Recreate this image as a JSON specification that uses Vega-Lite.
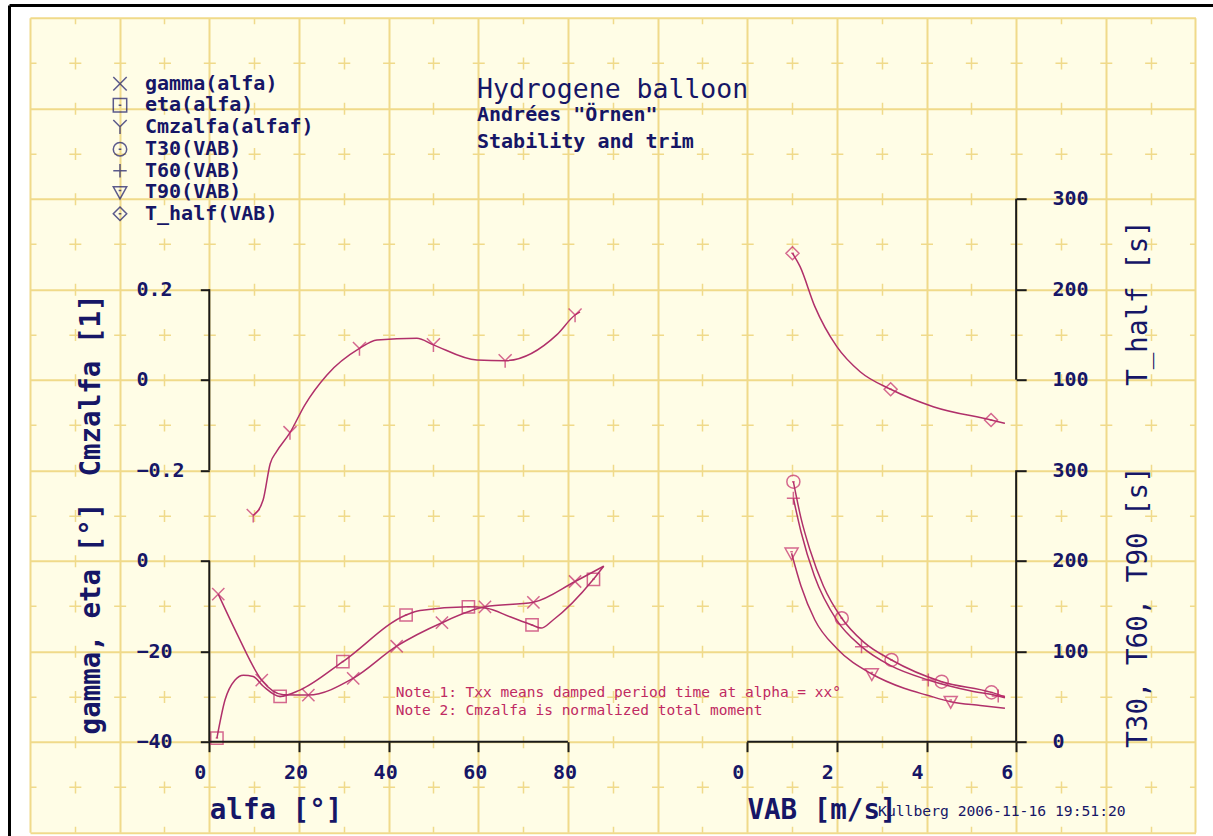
{
  "$schema": "https://vega.github.io/schema/vega-lite/v6.json",
  "width": 1165.45,
  "height": 814.5,
  "autosize": {"type": "none"},
  "padding": {"left": 30, "top": 17.7, "right": 17.55, "bottom": 3.8},
  "background": "white",
  "title": {
    "text": "Hydrogene balloon",
    "subtitle": ["Andrées \"Örnen\"", "Stability and trim"],
    "anchor": "start", "frame": "group", "orient": "top", "offset": 0,
    "dx": 447, "dy": 147,
    "font": "DejaVu Sans Mono", "fontSize": 26.5, "fontWeight": "normal", "color": "#161666",
    "subtitleFont": "DejaVu Sans Mono", "subtitleFontSize": 20, "subtitleFontWeight": "bold",
    "subtitleColor": "#161666", "subtitlePadding": 2, "subtitleLineHeight": 27
  },
  "data": {"values": [{}]},
  "datasets": {
    "alfa_curves": [
      {"series": "gamma(alfa)", "alfa": 2.0, "value": -7.4},
      {"series": "gamma(alfa)", "alfa": 6.1, "value": -16.0},
      {"series": "gamma(alfa)", "alfa": 11.7, "value": -26.4},
      {"series": "gamma(alfa)", "alfa": 16.5, "value": -29.6},
      {"series": "gamma(alfa)", "alfa": 22.1, "value": -29.7},
      {"series": "gamma(alfa)", "alfa": 32.1, "value": -26.0},
      {"series": "gamma(alfa)", "alfa": 41.8, "value": -18.9},
      {"series": "gamma(alfa)", "alfa": 51.9, "value": -13.7},
      {"series": "gamma(alfa)", "alfa": 61.5, "value": -10.2},
      {"series": "gamma(alfa)", "alfa": 72.3, "value": -9.2},
      {"series": "gamma(alfa)", "alfa": 81.6, "value": -4.6},
      {"series": "gamma(alfa)", "alfa": 88.0, "value": -1.2},
      {"series": "eta(alfa)", "alfa": 1.7, "value": -39.2},
      {"series": "eta(alfa)", "alfa": 3.5, "value": -30.8},
      {"series": "eta(alfa)", "alfa": 5.7, "value": -26.4},
      {"series": "eta(alfa)", "alfa": 7.6, "value": -25.3},
      {"series": "eta(alfa)", "alfa": 9.8, "value": -25.6},
      {"series": "eta(alfa)", "alfa": 12.1, "value": -27.8},
      {"series": "eta(alfa)", "alfa": 15.8, "value": -30.0},
      {"series": "eta(alfa)", "alfa": 20.2, "value": -28.6},
      {"series": "eta(alfa)", "alfa": 29.8, "value": -22.3},
      {"series": "eta(alfa)", "alfa": 43.9, "value": -12.0},
      {"series": "eta(alfa)", "alfa": 47.0, "value": -11.0},
      {"series": "eta(alfa)", "alfa": 57.8, "value": -10.2},
      {"series": "eta(alfa)", "alfa": 61.9, "value": -10.5},
      {"series": "eta(alfa)", "alfa": 67.1, "value": -12.4},
      {"series": "eta(alfa)", "alfa": 72.0, "value": -14.2},
      {"series": "eta(alfa)", "alfa": 74.0, "value": -14.9},
      {"series": "eta(alfa)", "alfa": 76.7, "value": -13.1},
      {"series": "eta(alfa)", "alfa": 85.7, "value": -4.1},
      {"series": "eta(alfa)", "alfa": 88.0, "value": -1.2}
    ],
    "alfa_markers": [
      {"series": "gamma(alfa)", "alfa": 2.0, "value": -7.4},
      {"series": "gamma(alfa)", "alfa": 11.7, "value": -26.4},
      {"series": "gamma(alfa)", "alfa": 22.1, "value": -29.7},
      {"series": "gamma(alfa)", "alfa": 32.1, "value": -26.0},
      {"series": "gamma(alfa)", "alfa": 41.8, "value": -18.9},
      {"series": "gamma(alfa)", "alfa": 51.9, "value": -13.7},
      {"series": "gamma(alfa)", "alfa": 61.5, "value": -10.2},
      {"series": "gamma(alfa)", "alfa": 72.3, "value": -9.2},
      {"series": "gamma(alfa)", "alfa": 81.6, "value": -4.6},
      {"series": "eta(alfa)", "alfa": 1.7, "value": -39.2},
      {"series": "eta(alfa)", "alfa": 15.8, "value": -30.0},
      {"series": "eta(alfa)", "alfa": 29.8, "value": -22.3},
      {"series": "eta(alfa)", "alfa": 43.9, "value": -12.0},
      {"series": "eta(alfa)", "alfa": 57.8, "value": -10.2},
      {"series": "eta(alfa)", "alfa": 72.0, "value": -14.2},
      {"series": "eta(alfa)", "alfa": 85.7, "value": -4.1}
    ],
    "cm_curve": [
      {"series": "Cmzalfa(alfaf)", "alfa": 9.8, "Cmzalfa": -0.300},
      {"series": "Cmzalfa(alfaf)", "alfa": 12.0, "Cmzalfa": -0.266},
      {"series": "Cmzalfa(alfaf)", "alfa": 13.6, "Cmzalfa": -0.185},
      {"series": "Cmzalfa(alfaf)", "alfa": 15.0, "Cmzalfa": -0.159},
      {"series": "Cmzalfa(alfaf)", "alfa": 18.0, "Cmzalfa": -0.117},
      {"series": "Cmzalfa(alfaf)", "alfa": 21.3, "Cmzalfa": -0.056},
      {"series": "Cmzalfa(alfaf)", "alfa": 26.2, "Cmzalfa": 0.010},
      {"series": "Cmzalfa(alfaf)", "alfa": 33.5, "Cmzalfa": 0.069},
      {"series": "Cmzalfa(alfaf)", "alfa": 37.4, "Cmzalfa": 0.088},
      {"series": "Cmzalfa(alfaf)", "alfa": 46.3, "Cmzalfa": 0.0915},
      {"series": "Cmzalfa(alfaf)", "alfa": 50.0, "Cmzalfa": 0.077},
      {"series": "Cmzalfa(alfaf)", "alfa": 59.7, "Cmzalfa": 0.0435},
      {"series": "Cmzalfa(alfaf)", "alfa": 66.0, "Cmzalfa": 0.042},
      {"series": "Cmzalfa(alfaf)", "alfa": 77.5, "Cmzalfa": 0.099},
      {"series": "Cmzalfa(alfaf)", "alfa": 81.6, "Cmzalfa": 0.143},
      {"series": "Cmzalfa(alfaf)", "alfa": 82.7, "Cmzalfa": 0.150}
    ],
    "cm_markers": [
      {"series": "Cmzalfa(alfaf)", "alfa": 9.8, "Cmzalfa": -0.300},
      {"series": "Cmzalfa(alfaf)", "alfa": 18.0, "Cmzalfa": -0.117},
      {"series": "Cmzalfa(alfaf)", "alfa": 33.5, "Cmzalfa": 0.069},
      {"series": "Cmzalfa(alfaf)", "alfa": 50.0, "Cmzalfa": 0.077},
      {"series": "Cmzalfa(alfaf)", "alfa": 66.0, "Cmzalfa": 0.042},
      {"series": "Cmzalfa(alfaf)", "alfa": 81.6, "Cmzalfa": 0.143}
    ],
    "thalf_curve": [
      {"series": "T_half(VAB)", "VAB": 1.01, "T_half": 239.7},
      {"series": "T_half(VAB)", "VAB": 1.18, "T_half": 224.9},
      {"series": "T_half(VAB)", "VAB": 1.51, "T_half": 180.7},
      {"series": "T_half(VAB)", "VAB": 2.0, "T_half": 136.5},
      {"series": "T_half(VAB)", "VAB": 2.52, "T_half": 108.8},
      {"series": "T_half(VAB)", "VAB": 3.2, "T_half": 89.4},
      {"series": "T_half(VAB)", "VAB": 4.15, "T_half": 70.2},
      {"series": "T_half(VAB)", "VAB": 5.44, "T_half": 55.5},
      {"series": "T_half(VAB)", "VAB": 5.75, "T_half": 51.8}
    ],
    "thalf_markers": [
      {"series": "T_half(VAB)", "VAB": 1.01, "T_half": 239.7},
      {"series": "T_half(VAB)", "VAB": 3.2, "T_half": 89.4},
      {"series": "T_half(VAB)", "VAB": 5.44, "T_half": 55.5}
    ],
    "vab_curves": [
      {"series": "T30(VAB)", "VAB": 1.03, "T": 287.3},
      {"series": "T30(VAB)", "VAB": 1.2, "T": 247},
      {"series": "T30(VAB)", "VAB": 1.4, "T": 212},
      {"series": "T30(VAB)", "VAB": 1.7, "T": 172},
      {"series": "T30(VAB)", "VAB": 2.11, "T": 136.4},
      {"series": "T30(VAB)", "VAB": 2.6, "T": 110},
      {"series": "T30(VAB)", "VAB": 3.22, "T": 90.3},
      {"series": "T30(VAB)", "VAB": 4.34, "T": 66.3},
      {"series": "T30(VAB)", "VAB": 5.45, "T": 54.5},
      {"series": "T30(VAB)", "VAB": 5.75, "T": 49.5},
      {"series": "T60(VAB)", "VAB": 1.03, "T": 269},
      {"series": "T60(VAB)", "VAB": 1.2, "T": 232},
      {"series": "T60(VAB)", "VAB": 1.5, "T": 183},
      {"series": "T60(VAB)", "VAB": 2.0, "T": 134},
      {"series": "T60(VAB)", "VAB": 2.55, "T": 105},
      {"series": "T60(VAB)", "VAB": 3.2, "T": 84},
      {"series": "T60(VAB)", "VAB": 4.04, "T": 68.2},
      {"series": "T60(VAB)", "VAB": 5.0, "T": 56},
      {"series": "T60(VAB)", "VAB": 5.6, "T": 50.5},
      {"series": "T60(VAB)", "VAB": 5.75, "T": 48.5},
      {"series": "T90(VAB)", "VAB": 0.99, "T": 208.2},
      {"series": "T90(VAB)", "VAB": 1.2, "T": 172},
      {"series": "T90(VAB)", "VAB": 1.51, "T": 134.5},
      {"series": "T90(VAB)", "VAB": 2.0, "T": 103},
      {"series": "T90(VAB)", "VAB": 2.78, "T": 74.8},
      {"series": "T90(VAB)", "VAB": 3.5, "T": 59},
      {"series": "T90(VAB)", "VAB": 4.0, "T": 51.6},
      {"series": "T90(VAB)", "VAB": 4.54, "T": 44.2},
      {"series": "T90(VAB)", "VAB": 5.2, "T": 40},
      {"series": "T90(VAB)", "VAB": 5.75, "T": 36.9}
    ],
    "vab_markers": [
      {"series": "T30(VAB)", "VAB": 1.03, "T": 287.3},
      {"series": "T30(VAB)", "VAB": 2.11, "T": 136.4},
      {"series": "T30(VAB)", "VAB": 3.22, "T": 90.3},
      {"series": "T30(VAB)", "VAB": 4.34, "T": 66.3},
      {"series": "T30(VAB)", "VAB": 5.45, "T": 54.5},
      {"series": "T60(VAB)", "VAB": 1.03, "T": 269},
      {"series": "T60(VAB)", "VAB": 2.55, "T": 105},
      {"series": "T60(VAB)", "VAB": 4.04, "T": 68.2},
      {"series": "T60(VAB)", "VAB": 5.6, "T": 50.5},
      {"series": "T90(VAB)", "VAB": 0.99, "T": 208.2},
      {"series": "T90(VAB)", "VAB": 2.78, "T": 74.8},
      {"series": "T90(VAB)", "VAB": 4.54, "T": 44.2}
    ]
  },
  "layer": [
    {
      "mark": {"type": "point", "opacity": 0},
      "encoding": {
        "x": {"datum": 0, "type": "quantitative",
          "scale": {"domain": [0, 1], "range": [-21, 1183], "nice": false, "zero": false},
          "axis": {"orient": "top", "offset": 12.7, "domain": true, "domainColor": "#000000", "domainWidth": 3, "ticks": false, "labels": false, "grid": false, "title": null, "zindex": 0}},
        "y": {"datum": 0, "type": "quantitative",
          "scale": {"domain": [0, 1], "range": [818.3, -12.7], "nice": false, "zero": false},
          "axis": {"orient": "left", "offset": 21, "domain": true, "domainColor": "#000000", "domainWidth": 3, "ticks": false, "labels": false, "grid": false, "title": null, "zindex": 0}}
      }
    },
    {
      "layer": [
        {
          "data": {"name": "alfa_markers"},
          "mark": {"type": "point", "filled": false, "color": "#c42a6a", "strokeWidth": 1.5, "size": 150},
          "encoding": {
            "x": {"field": "alfa", "type": "quantitative",
              "scale": {"domain": [-40, 220], "nice": false, "zero": false},
              "axis": {"orient": "bottom", "grid": true, "values": [-40, -20, 0, 20, 40, 60, 80, 100, 120, 140, 160, 180, 200, 220], "gridColor": "#f0da8a", "gridWidth": 2, "domain": false, "ticks": false, "labels": false, "title": null, "zindex": 0}},
            "y": {"field": "value", "type": "quantitative",
              "scale": {"domain": [-60, 120], "nice": false, "zero": false},
              "axis": {"orient": "left", "grid": true, "values": [-60, -40, -20, 0, 20, 40, 60, 80, 100, 120], "gridColor": "#f0da8a", "gridWidth": 2, "domain": false, "ticks": false, "labels": false, "title": null, "zindex": 0}},
            "shape": {"field": "series", "type": "nominal",
              "scale": {"domain": ["gamma(alfa)", "eta(alfa)", "Cmzalfa(alfaf)", "T30(VAB)", "T60(VAB)", "T90(VAB)", "T_half(VAB)"],
                "range": ["M-1,-1L1,1M-1,1L1,-1", "M-1,-1L1,-1L1,1L-1,1Z M-0.2,0L0.2,0", "M-1,-1L0,0L1,-1M0,0L0,1.1", "M1,0A1,1,0,1,1,-1,0A1,1,0,1,1,1,0Z M-0.2,0L0.2,0", "M-1,0L1,0M0,-1L0,1", "M-1,-0.8L1,-0.8L0,1Z M-0.2,-0.25L0.2,-0.25", "M0,-1L1,0L0,1L-1,0Z M-0.2,0L0.2,0"]},
              "legend": {"orient": "none", "legendX": 80, "legendY": 56, "title": null, "direction": "vertical",
                "labelFont": "DejaVu Sans Mono", "labelFontWeight": "bold", "labelFontSize": 20, "labelColor": "#161666",
                "labelOffset": 15, "labelLimit": 400, "symbolSize": 180, "symbolStrokeWidth": 1.5,
                "symbolStrokeColor": "#161666", "symbolFillColor": "transparent", "rowPadding": 1.5, "padding": 0, "symbolOffset": 0,
                "encode": {"symbols": {"update": {"stroke": {"value": "#161666"}, "fill": {"value": "transparent"}, "strokeWidth": {"value": 1.5}}}}}}
          }
        },
        {
          "mark": {"type": "rule", "color": "#1a1a1a", "strokeWidth": 2},
          "encoding": {
            "x": {"datum": 0, "type": "quantitative",
              "axis": {"orient": "bottom", "grid": true, "values": [-30, -10, 10, 30, 50, 70, 90, 110, 130, 150, 170, 190, 210], "gridColor": "#f0da8a", "gridWidth": 1.5, "gridDash": [12, 33.25], "gridDashOffset": 6, "domain": false, "ticks": false, "labels": false, "title": null, "zindex": 0}},
            "x2": {"datum": 80},
            "y": {"datum": -40, "type": "quantitative",
              "axis": {"orient": "left", "grid": true, "values": [-50, -30, -10, 10, 30, 50, 70, 90, 110], "gridColor": "#f0da8a", "gridWidth": 1.5, "gridDash": [12, 32.825], "gridDashOffset": 6, "domain": false, "ticks": false, "labels": false, "title": null, "zindex": 0}}
          }
        },
        {
          "data": {"name": "alfa_curves"},
          "mark": {"type": "line", "interpolate": "monotone", "color": "#b0306a", "strokeWidth": 1.5},
          "encoding": {
            "x": {"field": "alfa", "type": "quantitative",
              "axis": {"orient": "bottom", "offset": -90.5, "values": [0, 20, 40, 60, 80], "tickSize": 10, "labelAlign": "left", "labelOffset": -15.5, "labelBaseline": "middle", "labelPadding": 20.8,
                "title": "alfa [°]", "titleX": 179.3, "titleY": 76.3, "titleAlign": "left", "titleBaseline": "alphabetic", "titleAngle": 0}},
            "y": {"field": "value", "type": "quantitative",
              "axis": {"orient": "left", "offset": -179.3, "values": [-40, -20, 0], "tickSize": 9, "labelAlign": "left", "labelPadding": 64.3, "labelBaseline": "middle",
                "title": "gamma, eta [°]", "titleAngle": 270, "titleX": -118.3, "titleY": 600.3, "titleAlign": "center", "titleBaseline": "middle"}},
            "detail": {"field": "series"}
          }
        },
        {
          "mark": {"type": "rule", "color": "#1a1a1a", "strokeWidth": 2},
          "encoding": {
            "x": {"datum": 0, "type": "quantitative", "axis": null},
            "y": {"datum": -40, "type": "quantitative", "axis": null},
            "y2": {"datum": 0}
          }
        },
        {
          "mark": {"type": "text", "align": "left", "baseline": "middle", "font": "DejaVu Sans Mono", "fontSize": 14.5, "color": "#c02a62", "lineHeight": 18.3},
          "encoding": {
            "x": {"datum": 41.6, "type": "quantitative", "axis": null},
            "y": {"datum": -29.2, "type": "quantitative", "axis": null},
            "text": {"value": ["Note 1: Txx means damped period time at alpha = xx°", "Note 2: Cmzalfa is normalized total moment"]}
          }
        }
      ],
      "resolve": {"axis": {"x": "independent", "y": "independent"}}
    },
    {
      "layer": [
        {
          "data": {"name": "cm_curve"},
          "mark": {"type": "line", "interpolate": "monotone", "color": "#b0306a", "strokeWidth": 1.5},
          "encoding": {
            "x": {"field": "alfa", "type": "quantitative", "scale": {"domain": [-40, 220], "nice": false, "zero": false}, "axis": null},
            "y": {"field": "Cmzalfa", "type": "quantitative", "scale": {"domain": [-1, 0.8], "nice": false, "zero": false},
              "axis": {"orient": "left", "offset": -179.3, "values": [-0.2, 0, 0.2], "format": "~g", "tickSize": 9, "labelAlign": "left", "labelPadding": 64.3, "labelBaseline": "middle",
                "title": "Cmzalfa [1]", "titleAngle": 270, "titleX": -118.3, "titleY": 367.3, "titleAlign": "center", "titleBaseline": "middle"}}
          }
        },
        {
          "data": {"name": "cm_markers"},
          "mark": {"type": "point", "filled": false, "color": "#c42a6a", "strokeWidth": 1.5, "size": 170},
          "encoding": {
            "x": {"field": "alfa", "type": "quantitative", "axis": null},
            "y": {"field": "Cmzalfa", "type": "quantitative", "axis": null},
            "shape": {"field": "series", "type": "nominal",
              "scale": {"domain": ["gamma(alfa)", "eta(alfa)", "Cmzalfa(alfaf)", "T30(VAB)", "T60(VAB)", "T90(VAB)", "T_half(VAB)"],
                "range": ["M-1,-1L1,1M-1,1L1,-1", "M-1,-1L1,-1L1,1L-1,1Z M-0.2,0L0.2,0", "M-1,-1L0,0L1,-1M0,0L0,1.1", "M1,0A1,1,0,1,1,-1,0A1,1,0,1,1,1,0Z M-0.2,0L0.2,0", "M-1,0L1,0M0,-1L0,1", "M-1,-0.8L1,-0.8L0,1Z M-0.2,-0.25L0.2,-0.25", "M0,-1L1,0L0,1L-1,0Z M-0.2,0L0.2,0"]}}
          }
        },
        {
          "mark": {"type": "rule", "color": "#1a1a1a", "strokeWidth": 2},
          "encoding": {
            "x": {"datum": 0, "type": "quantitative", "axis": null},
            "y": {"datum": -0.2, "type": "quantitative", "axis": null},
            "y2": {"datum": 0.2}
          }
        }
      ],
      "resolve": {"axis": {"x": "independent", "y": "independent"}}
    },
    {
      "layer": [
        {
          "data": {"name": "thalf_curve"},
          "mark": {"type": "line", "interpolate": "monotone", "color": "#b0306a", "strokeWidth": 1.5},
          "encoding": {
            "x": {"field": "VAB", "type": "quantitative", "scale": {"domain": [-16, 10], "nice": false, "zero": false}, "axis": null},
            "y": {"field": "T_half", "type": "quantitative", "scale": {"domain": [-400, 500], "nice": false, "zero": false},
              "axis": {"orient": "right", "offset": -179.3, "values": [100, 200, 300], "tickSize": 10, "labelAlign": "left", "labelPadding": 25.85, "labelBaseline": "middle",
                "title": "T_half [s]", "titleAngle": 270, "titleX": 122.15, "titleY": 284.8, "titleAlign": "center", "titleBaseline": "middle", "titleFontWeight": "normal"}}
          }
        },
        {
          "data": {"name": "thalf_markers"},
          "mark": {"type": "point", "filled": false, "color": "#c42a6a", "strokeWidth": 1.5, "size": 170},
          "encoding": {
            "x": {"field": "VAB", "type": "quantitative", "axis": null},
            "y": {"field": "T_half", "type": "quantitative", "axis": null},
            "shape": {"field": "series", "type": "nominal",
              "scale": {"domain": ["gamma(alfa)", "eta(alfa)", "Cmzalfa(alfaf)", "T30(VAB)", "T60(VAB)", "T90(VAB)", "T_half(VAB)"],
                "range": ["M-1,-1L1,1M-1,1L1,-1", "M-1,-1L1,-1L1,1L-1,1Z M-0.2,0L0.2,0", "M-1,-1L0,0L1,-1M0,0L0,1.1", "M1,0A1,1,0,1,1,-1,0A1,1,0,1,1,1,0Z M-0.2,0L0.2,0", "M-1,0L1,0M0,-1L0,1", "M-1,-0.8L1,-0.8L0,1Z M-0.2,-0.25L0.2,-0.25", "M0,-1L1,0L0,1L-1,0Z M-0.2,0L0.2,0"]}}
          }
        },
        {
          "mark": {"type": "rule", "color": "#1a1a1a", "strokeWidth": 2},
          "encoding": {
            "x": {"datum": 6, "type": "quantitative", "axis": null},
            "y": {"datum": 100, "type": "quantitative", "axis": null},
            "y2": {"datum": 300}
          }
        }
      ],
      "resolve": {"axis": {"x": "independent", "y": "independent"}}
    },
    {
      "layer": [
        {
          "data": {"name": "vab_curves"},
          "mark": {"type": "line", "interpolate": "monotone", "color": "#b0306a", "strokeWidth": 1.5},
          "encoding": {
            "x": {"field": "VAB", "type": "quantitative", "scale": {"domain": [-16, 10], "nice": false, "zero": false},
              "axis": {"orient": "bottom", "offset": -90.5, "values": [0, 2, 4, 6], "tickSize": 10, "labelAlign": "left", "labelOffset": -15.5, "labelBaseline": "middle", "labelPadding": 20.8,
                "title": "VAB [m/s]", "titleX": 717, "titleY": 76.3, "titleAlign": "left", "titleBaseline": "alphabetic", "titleAngle": 0}},
            "y": {"field": "T", "type": "quantitative", "scale": {"domain": [-100, 800], "nice": false, "zero": false},
              "axis": {"orient": "right", "offset": -179.3, "values": [0, 100, 200, 300], "tickSize": 10, "labelAlign": "left", "labelPadding": 25.85, "labelBaseline": "middle",
                "title": "T30, T60, T90 [s]", "titleAngle": 270, "titleX": 122.15, "titleY": 588.8, "titleAlign": "center", "titleBaseline": "middle", "titleFontWeight": "normal"}},
            "detail": {"field": "series"}
          }
        },
        {
          "data": {"name": "vab_markers"},
          "mark": {"type": "point", "filled": false, "color": "#c42a6a", "strokeWidth": 1.5, "size": 170},
          "encoding": {
            "x": {"field": "VAB", "type": "quantitative", "axis": null},
            "y": {"field": "T", "type": "quantitative", "axis": null},
            "shape": {"field": "series", "type": "nominal",
              "scale": {"domain": ["gamma(alfa)", "eta(alfa)", "Cmzalfa(alfaf)", "T30(VAB)", "T60(VAB)", "T90(VAB)", "T_half(VAB)"],
                "range": ["M-1,-1L1,1M-1,1L1,-1", "M-1,-1L1,-1L1,1L-1,1Z M-0.2,0L0.2,0", "M-1,-1L0,0L1,-1M0,0L0,1.1", "M1,0A1,1,0,1,1,-1,0A1,1,0,1,1,1,0Z M-0.2,0L0.2,0", "M-1,0L1,0M0,-1L0,1", "M-1,-0.8L1,-0.8L0,1Z M-0.2,-0.25L0.2,-0.25", "M0,-1L1,0L0,1L-1,0Z M-0.2,0L0.2,0"]}}
          }
        },
        {
          "mark": {"type": "rule", "color": "#1a1a1a", "strokeWidth": 2},
          "encoding": {
            "x": {"datum": 0, "type": "quantitative", "axis": null},
            "x2": {"datum": 6},
            "y": {"datum": 0, "type": "quantitative", "axis": null}
          }
        },
        {
          "mark": {"type": "rule", "color": "#1a1a1a", "strokeWidth": 2},
          "encoding": {
            "x": {"datum": 6, "type": "quantitative", "axis": null},
            "y": {"datum": 0, "type": "quantitative", "axis": null},
            "y2": {"datum": 300}
          }
        },
        {
          "mark": {"type": "text", "align": "left", "baseline": "middle", "font": "DejaVu Sans Mono", "fontSize": 14.7, "color": "#161666"},
          "encoding": {
            "x": {"datum": 2.92, "type": "quantitative", "axis": null},
            "y": {"datum": -77.3, "type": "quantitative", "axis": null},
            "text": {"value": "Kullberg 2006-11-16 19:51:20"}
          }
        }
      ],
      "resolve": {"axis": {"x": "independent", "y": "independent"}}
    }
  ],
  "resolve": {"scale": {"x": "independent", "y": "independent"}},
  "config": {
    "view": {"fill": "#fffde6", "stroke": null},
    "font": "DejaVu Sans Mono",
    "axis": {
      "labelFont": "DejaVu Sans Mono", "labelFontSize": 20, "labelFontWeight": "bold", "labelColor": "#161666",
      "titleFont": "DejaVu Sans Mono", "titleFontSize": 27.5, "titleFontWeight": "bold", "titleColor": "#161666",
      "tickColor": "#1a1a1a", "tickWidth": 2, "domain": false, "grid": false,
      "labelOverlap": false, "labelFlush": false, "labelBound": false, "zindex": 1
    }
  }
}
